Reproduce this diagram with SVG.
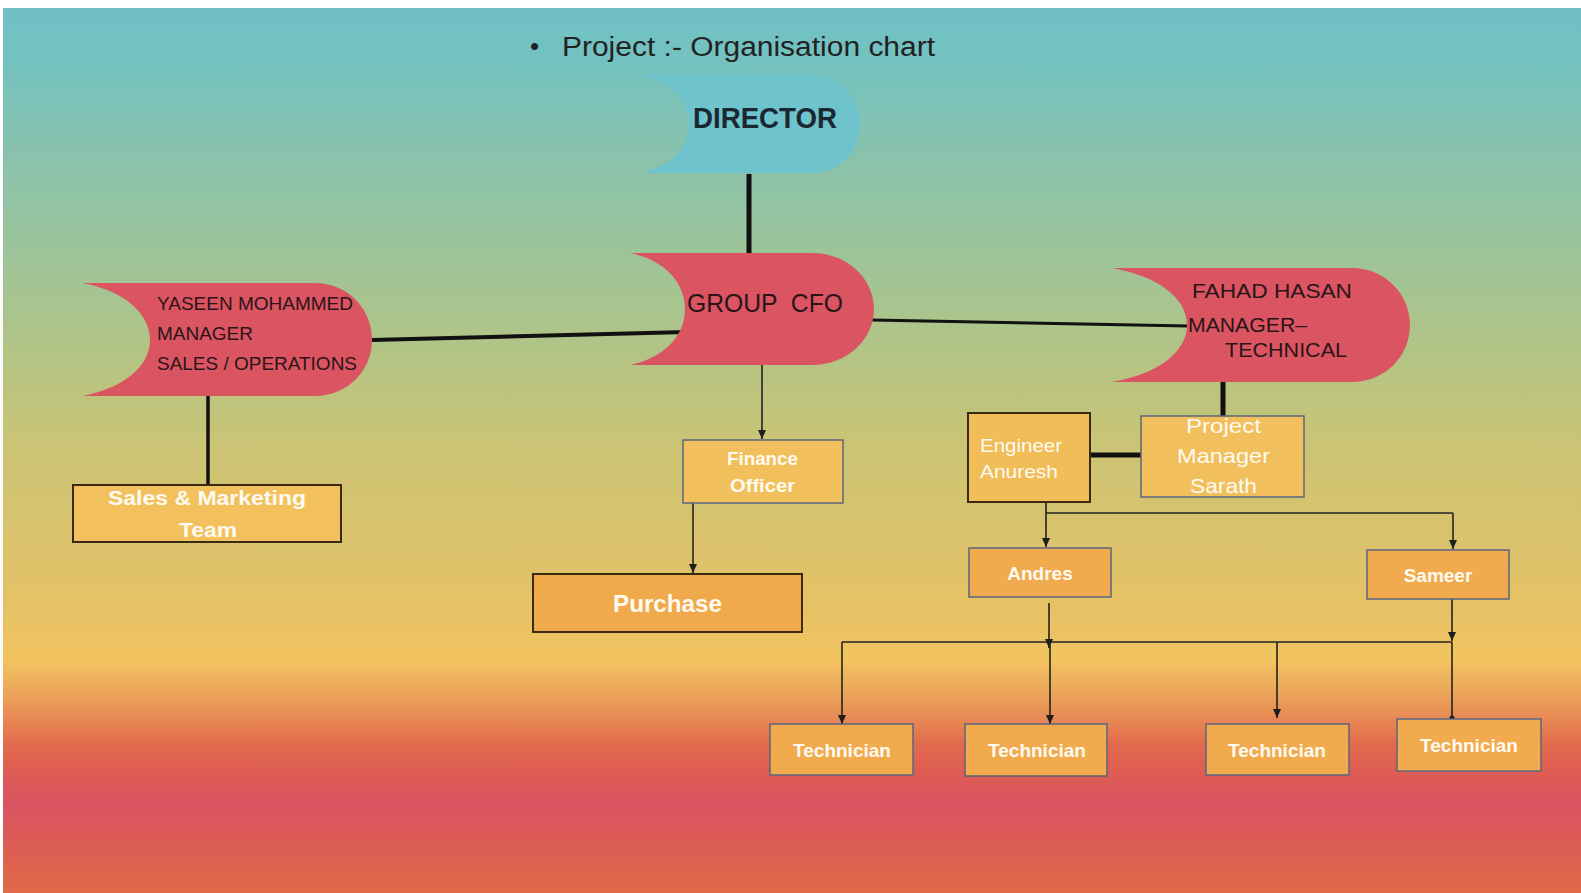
<svg xmlns="http://www.w3.org/2000/svg" width="1581" height="893" viewBox="0 0 1581 893">
<defs>
<linearGradient id="bg" x1="0" y1="0" x2="0" y2="1">
<stop offset="0" stop-color="#70c0c6"/>
<stop offset="0.06" stop-color="#74c2c0"/>
<stop offset="0.16" stop-color="#88c2ae"/>
<stop offset="0.273" stop-color="#9cc49a"/>
<stop offset="0.386" stop-color="#b2c486"/>
<stop offset="0.5" stop-color="#ccc474"/>
<stop offset="0.612" stop-color="#dcc26c"/>
<stop offset="0.69" stop-color="#e8c264"/>
<stop offset="0.737" stop-color="#f2c460"/>
<stop offset="0.77" stop-color="#eca85a"/>
<stop offset="0.80" stop-color="#e88c55"/>
<stop offset="0.833" stop-color="#e26a4e"/>
<stop offset="0.86" stop-color="#de5e52"/>
<stop offset="0.9" stop-color="#d85462"/>
<stop offset="0.94" stop-color="#dc5c56"/>
<stop offset="1" stop-color="#e06a48"/>
</linearGradient>
<marker id="arr" markerWidth="10" markerHeight="10" refX="9" refY="5" orient="auto" markerUnits="userSpaceOnUse">
<path d="M0,1 L9,5 L0,9 Z" fill="#1e1e1e"/>
</marker>
<style>
.sans{font-family:"Liberation Sans","Open Sans",Arial,sans-serif}
.red{fill:#da5561}
.dark{fill:#2a1418}
.wt{fill:#fffaf0;font-family:"Liberation Sans",Arial,sans-serif}
.b{font-weight:bold}
.boxA{fill:#f2c15e;stroke:#3b2a12;stroke-width:2}
.boxB{fill:#f1c05c;stroke:#5a6680;stroke-width:1.5}
.boxC{fill:#f0aa4c;stroke:#3b2a12;stroke-width:2}
.boxD{fill:#f1ab4e;stroke:#5a6680;stroke-width:1.5}
.thick{stroke:#111;fill:none}
.thin{stroke:#222;stroke-width:1.6;fill:none}
.arrow{marker-end:url(#arr)}
</style>
</defs>
<rect x="0" y="0" width="1581" height="893" fill="#ffffff"/>
<rect x="3" y="8" width="1578" height="885" fill="url(#bg)"/>

<text class="sans" x="530" y="55" font-size="26" fill="#222">•</text>
<text class="sans" x="562" y="56" font-size="27" fill="#222" textLength="373" lengthAdjust="spacingAndGlyphs">Project :- Organisation chart</text>

<g id="connectors">
<line class="thick" x1="749" y1="174" x2="749" y2="254" stroke-width="5"/>
<line class="thick" x1="372" y1="340" x2="687" y2="332" stroke-width="4"/>
<line class="thick" x1="872" y1="320" x2="1188" y2="326" stroke-width="3"/>
<line class="thick" x1="1223" y1="370" x2="1223" y2="422" stroke-width="5"/>
<line class="thick" x1="208" y1="395" x2="208" y2="485" stroke-width="3.5"/>
<line class="thick" x1="1090" y1="455" x2="1141" y2="455" stroke-width="5"/>
<line class="thin arrow" x1="762" y1="358" x2="762" y2="439"/>
<line class="thin arrow" x1="693" y1="503" x2="693" y2="573"/>
<line class="thin arrow" x1="1046" y1="502" x2="1046" y2="547"/>
<polyline class="thin" points="1046,513 1453,513"/>
<line class="thin arrow" x1="1453" y1="513" x2="1453" y2="549"/>
<line class="thin arrow" x1="1049" y1="603" x2="1049" y2="648"/>
<line class="thin arrow" x1="1452" y1="599" x2="1452" y2="641"/>
<polyline class="thin" points="842,642 1452,642"/>
<line class="thin arrow" x1="842" y1="642" x2="842" y2="724"/>
<line class="thin arrow" x1="1050" y1="642" x2="1050" y2="724"/>
<line class="thin arrow" x1="1277" y1="642" x2="1277" y2="718"/>
<line class="thin" x1="1452" y1="642" x2="1452" y2="719"/>
<circle cx="1452" cy="718" r="2.5" fill="#1e1e1e"/>
</g>

<g id="director">
<path d="M640,75 H812 C840,75 860,97 860,124 C860,151 840,173 812,173 H642 C672,165 689,148 689,124 C689,100 672,83 640,75 Z" fill="#6ec3cc"/>
<text class="sans b" x="693" y="128" font-size="29" fill="#1b2830" textLength="144" lengthAdjust="spacingAndGlyphs">DIRECTOR</text>
</g>

<g id="group-cfo">
<path class="red" d="M630,253 H813 C846,253 874,278 874,309 C874,340 846,365 813,365 H630 C664,358 685,336 685,309 C685,282 664,260 630,253 Z"/>
<text class="sans dark" x="687" y="312" font-size="26" textLength="156" lengthAdjust="spacingAndGlyphs" xml:space="preserve">GROUP  CFO</text>
</g>

<g id="yaseen">
<path class="red" d="M83,283 H315 C347,283 372,308 372,340 C372,371 347,396 315,396 H83 C124,388 150,366 150,340 C150,313 124,291 83,283 Z"/>
<text class="sans dark" x="157" y="310" font-size="18" textLength="196" lengthAdjust="spacingAndGlyphs">YASEEN MOHAMMED</text>
<text class="sans dark" x="157" y="340" font-size="18" textLength="96" lengthAdjust="spacingAndGlyphs">MANAGER</text>
<text class="sans dark" x="157" y="370" font-size="18" textLength="200" lengthAdjust="spacingAndGlyphs">SALES / OPERATIONS</text>
</g>

<g id="fahad">
<path class="red" d="M1112,268 H1352 C1385,268 1410,294 1410,325 C1410,356 1385,382 1352,382 H1112 C1158,374 1187,352 1187,325 C1187,298 1158,276 1112,268 Z"/>
<text class="sans dark" x="1192" y="298" font-size="21" textLength="160" lengthAdjust="spacingAndGlyphs">FAHAD HASAN</text>
<text class="sans dark" x="1188" y="332" font-size="21" textLength="119" lengthAdjust="spacingAndGlyphs">MANAGER–</text>
<text class="sans dark" x="1225" y="357" font-size="21" textLength="122" lengthAdjust="spacingAndGlyphs">TECHNICAL</text>
</g>

<g id="sales-team">
<rect class="boxA" x="73" y="485" width="268" height="57"/>
<text class="wt b" x="108" y="505" font-size="21" textLength="198" lengthAdjust="spacingAndGlyphs">Sales &amp; Marketing</text>
<text class="wt b" x="179" y="537" font-size="21" textLength="58" lengthAdjust="spacingAndGlyphs">Team</text>
</g>

<g id="finance-officer">
<rect class="boxB" x="683" y="440" width="160" height="63"/>
<text class="wt b" x="727" y="465" font-size="18" textLength="71" lengthAdjust="spacingAndGlyphs">Finance</text>
<text class="wt b" x="730" y="492" font-size="18" textLength="65" lengthAdjust="spacingAndGlyphs">Officer</text>
</g>

<g id="purchase">
<rect class="boxC" x="533" y="574" width="269" height="58"/>
<text class="wt b" x="613" y="612" font-size="24" textLength="109" lengthAdjust="spacingAndGlyphs">Purchase</text>
</g>

<g id="engineer-anuresh">
<rect class="boxA" x="968" y="413" width="122" height="89" style="fill:#f0bd58"/>
<text class="wt" x="980" y="452" font-size="19" textLength="82" lengthAdjust="spacingAndGlyphs">Engineer</text>
<text class="wt" x="980" y="478" font-size="19" textLength="78" lengthAdjust="spacingAndGlyphs">Anuresh</text>
</g>

<g id="project-manager">
<rect class="boxB" x="1141" y="416" width="163" height="81"/>
<text class="wt" x="1186" y="433" font-size="21" textLength="75" lengthAdjust="spacingAndGlyphs">Project</text>
<text class="wt" x="1177" y="463" font-size="21" textLength="93" lengthAdjust="spacingAndGlyphs">Manager</text>
<text class="wt" x="1190" y="493" font-size="21" textLength="67" lengthAdjust="spacingAndGlyphs">Sarath</text>
</g>

<g id="andres">
<rect class="boxD" x="969" y="548" width="142" height="49"/>
<text class="wt b" x="1040" y="580" font-size="19" text-anchor="middle">Andres</text>
</g>

<g id="sameer">
<rect class="boxD" x="1367" y="550" width="142" height="49"/>
<text class="wt b" x="1438" y="582" font-size="19" text-anchor="middle">Sameer</text>
</g>

<g id="technician-1">
<rect class="boxD" x="770" y="724" width="143" height="51"/>
<text class="wt b" x="842" y="757" font-size="19" text-anchor="middle">Technician</text>
</g>
<g id="technician-2">
<rect class="boxD" x="965" y="724" width="142" height="52"/>
<text class="wt b" x="1037" y="757" font-size="19" text-anchor="middle">Technician</text>
</g>
<g id="technician-3">
<rect class="boxD" x="1206" y="724" width="143" height="51"/>
<text class="wt b" x="1277" y="757" font-size="19" text-anchor="middle">Technician</text>
</g>
<g id="technician-4">
<rect class="boxD" x="1397" y="719" width="144" height="52"/>
<text class="wt b" x="1469" y="752" font-size="19" text-anchor="middle">Technician</text>
</g>
</svg>
